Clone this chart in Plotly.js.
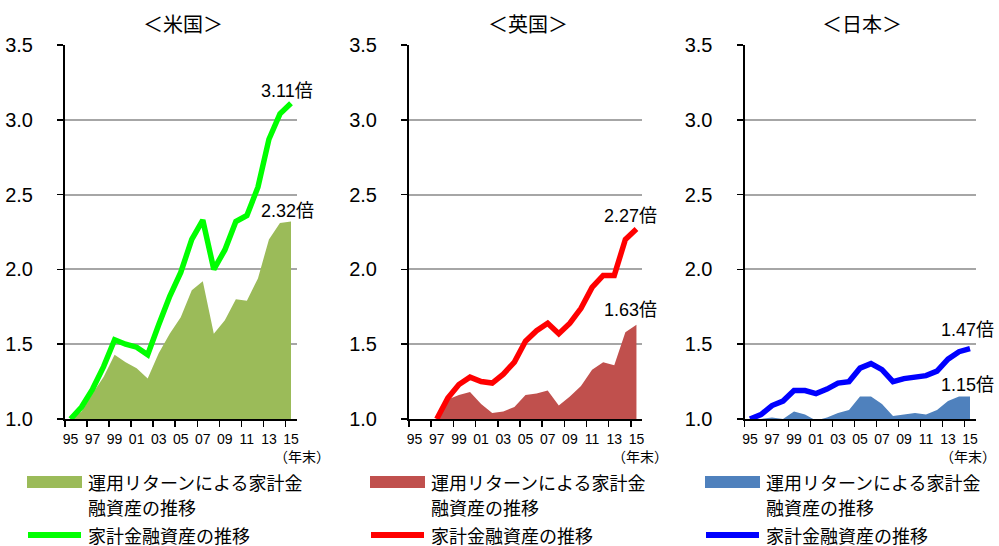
<!DOCTYPE html>
<html><head><meta charset="utf-8">
<script src="https://cdn.plot.ly/plotly-3.0.1.min.js"></script>
<style>html,body{margin:0;padding:0;background:#fff}</style>
</head><body><div id="chart" style="width:999px;height:546px"></div>
<script>
// ---- data ----
const years = [1995,1996,1997,1998,1999,2000,2001,2002,2003,2004,2005,2006,2007,2008,2009,2010,2011,2012,2013,2014,2015];
const tickYears = [1995,1997,1999,2001,2003,2005,2007,2009,2011,2013,2015];
const tickLabels = ['95','97','99','01','03','05','07','09','11','13','15'];
const panelTitles = ['＜米国＞','＜英国＞','＜日本＞'];
const areaNameLines = ['運用リターンによる家計金', '融資産の推移'];
const lineName = '家計金融資産の推移';
const unitLabel = '（年末）';

const usReturn = [1.00,1.05,1.17,1.28,1.43,1.38,1.34,1.27,1.44,1.57,1.68,1.86,1.92,1.57,1.66,1.80,1.79,1.94,2.20,2.31,2.32];
const usAssets = [1.00,1.08,1.20,1.35,1.53,1.50,1.48,1.43,1.63,1.82,1.98,2.20,2.33,2.00,2.13,2.32,2.36,2.55,2.87,3.04,3.11];
const ukReturn = [0.99,0.99,1.00,1.13,1.16,1.18,1.10,1.04,1.05,1.08,1.16,1.17,1.19,1.09,1.15,1.22,1.33,1.38,1.36,1.58,1.63];
const ukAssets = [null,null,1.00,1.14,1.23,1.28,1.25,1.24,1.30,1.38,1.52,1.59,1.64,1.57,1.64,1.74,1.88,1.96,1.96,2.20,2.27];
const jpReturn = [1.00,1.00,1.01,1.00,1.05,1.03,0.99,1.01,1.04,1.06,1.15,1.15,1.10,1.02,1.03,1.04,1.03,1.06,1.12,1.15,1.15];
const jpAssets = [1.00,1.03,1.09,1.12,1.19,1.19,1.17,1.20,1.24,1.25,1.34,1.37,1.33,1.25,1.27,1.28,1.29,1.32,1.40,1.45,1.47];

// ---- styling / layout ----
const W = 999, H = 546;
const px = x => x / W, py = y => 1 - y / H;
const latin = 'Liberation Sans, Arial, sans-serif';
const cjk = 'Noto Sans CJK JP, sans-serif';
const mixed = 'Liberation Sans, Noto Sans CJK JP, sans-serif';

const panels = [
  {ret: usReturn, ast: usAssets, areaColor: '#9BBB59', lineColor: '#00FF00', x0: 65, x1: 296.5,
   lblShift: [[-4, 12.5], [-3, 11]], legX: 27, unitX: 332},
  {ret: ukReturn, ast: ukAssets, areaColor: '#C0504D', lineColor: '#FF0000', x0: 409, x1: 642,
   lblShift: [[-6, 13.5], [-6, 14.5]], legX: 370, unitX: 670},
  {ret: jpReturn, ast: jpAssets, areaColor: '#4F81BD', lineColor: '#0000FF', x0: 744.5, x1: 975.5,
   lblShift: [[-3, 18.5], [-3, 11.5]], legX: 705, unitX: 998}
];

const traces = [];
const layout = {
  width: W, height: H, margin: {l: 0, r: 0, t: 0, b: 0},
  paper_bgcolor: '#fff', plot_bgcolor: '#fff', showlegend: false,
  annotations: [], shapes: []
};

function txt(x, y, text, size, opts) {
  return Object.assign({xref: 'paper', yref: 'paper', x: px(x), y: py(y), text: text,
    showarrow: false, xanchor: 'left', yanchor: 'middle', align: 'left',
    font: {family: cjk, size: size, color: '#000'}}, opts || {});
}

panels.forEach((p, i) => {
  const n = i === 0 ? '' : String(i + 1);
  const xa = 'x' + n, ya = 'y' + n;
  traces.push({x: years, y: p.ret, type: 'scatter', mode: 'none', fill: 'tozeroy',
    fillcolor: p.areaColor, xaxis: xa, yaxis: ya, name: areaNameLines.join(''), hoverinfo: 'x+y'});
  traces.push({x: years, y: p.ast, type: 'scatter', mode: 'lines',
    line: {color: p.lineColor, width: 5.5}, xaxis: xa, yaxis: ya, name: lineName, connectgaps: false});

  layout['xaxis' + n] = {
    domain: [px(p.x0), px(p.x1)], anchor: ya, range: [1994.5, 2015.5],
    tickmode: 'array', tickvals: tickYears, ticktext: tickLabels, ticks: '',
    showline: true, linecolor: '#000', linewidth: 2, showgrid: false, zeroline: false,
    tickfont: {family: latin, size: 14, color: '#000'}, ticklabelstandoff: 6,
    minor: {tickmode: 'array', tickvals: tickYears.map(v => v - 0.5), ticks: 'outside',
            ticklen: 6, tickwidth: 1.5, tickcolor: '#000', showgrid: false}
  };
  layout['yaxis' + n] = {
    domain: [py(419), py(45)], anchor: xa, range: [1, 3.5], tick0: 1, dtick: 0.5, tickformat: '.1f',
    ticks: 'outside', ticklen: 6, tickwidth: 1.5, tickcolor: '#000',
    showline: true, linecolor: '#000', linewidth: 2,
    showgrid: true, gridcolor: '#A6A6A6', gridwidth: 2, zeroline: false,
    tickfont: {family: latin, size: 20, color: '#000'}, ticklabelstandoff: 20
  };

  // value labels at the last point
  const last = years.length - 1;
  [[p.ast, p.lblShift[0]], [p.ret, p.lblShift[1]]].forEach(([arr, sh]) => {
    layout.annotations.push({xref: xa, yref: ya, x: years[last], y: arr[last],
      text: arr[last].toFixed(2) + '倍', showarrow: false, xanchor: 'center', yanchor: 'middle',
      xshift: sh[0], yshift: sh[1], font: {family: mixed, size: 18, color: '#000'}});
  });

  // panel title
  const cx = (p.x0 + p.x1) / 2 + 2;
  layout.annotations.push(txt(cx, 24, panelTitles[i], 20, {xanchor: 'center', align: 'center'}));
  // unit label
  layout.annotations.push(txt(p.unitX, 456, unitLabel, 14, {xanchor: 'right', align: 'right', height: 18}));

  // legend (drawn manually)
  layout.shapes.push({type: 'rect', xref: 'paper', yref: 'paper', x0: px(p.legX), x1: px(p.legX + 55),
    y0: py(488), y1: py(476), fillcolor: p.areaColor, line: {width: 0}});
  layout.shapes.push({type: 'line', xref: 'paper', yref: 'paper', x0: px(p.legX + 1), x1: px(p.legX + 54),
    y0: py(535), y1: py(535), line: {color: p.lineColor, width: 6}});
  layout.annotations.push(txt(p.legX + 59, 481, areaNameLines[0], 18, {height: 21}));
  layout.annotations.push(txt(p.legX + 59, 506, areaNameLines[1], 18, {height: 21}));
  layout.annotations.push(txt(p.legX + 59, 534, lineName, 18, {height: 21}));
});

Plotly.newPlot('chart', traces, layout, {displayModeBar: false, staticPlot: true});
</script>
</body></html>
